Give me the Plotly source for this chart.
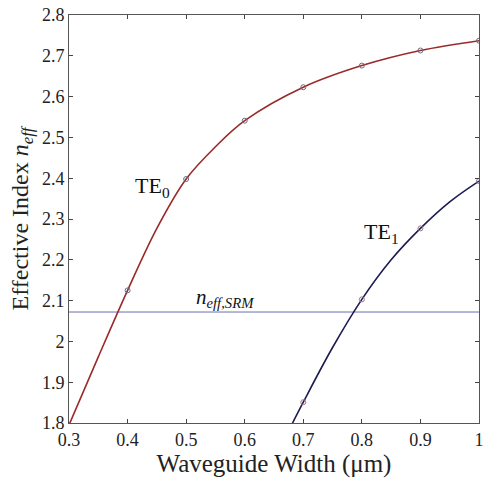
import plotly.graph_objects as go

# Data (curve read-offs and sample markers)
width_te0 = [0.3, 0.35, 0.4, 0.45, 0.5, 0.55, 0.6, 0.7, 0.8, 0.9, 1.0]
neff_te0 = [1.795, 1.962, 2.125, 2.277, 2.398, 2.477, 2.541, 2.623, 2.676, 2.713, 2.737]
te0_marker_x = [0.4, 0.5, 0.6, 0.7, 0.8, 0.9, 1.0]
te0_marker_y = [2.125, 2.398, 2.541, 2.623, 2.676, 2.713, 2.737]

width_te1 = [0.65, 0.7, 0.75, 0.8, 0.85, 0.9, 0.95, 1.0]
neff_te1 = [1.71, 1.851, 1.985, 2.103, 2.200, 2.277, 2.342, 2.393]
te1_marker_x = [0.7, 0.8, 0.9, 1.0]
te1_marker_y = [1.851, 2.103, 2.277, 2.393]

neff_srm = 2.072
x_range = [0.3, 1.0]
y_range = [1.8, 2.8]
x_ticks = [0.3, 0.4, 0.5, 0.6, 0.7, 0.8, 0.9, 1.0]
x_ticklabels = ["0.3", "0.4", "0.5", "0.6", "0.7", "0.8", "0.9", "1"]
y_ticks = [1.8, 1.9, 2.0, 2.1, 2.2, 2.3, 2.4, 2.5, 2.6, 2.7, 2.8]
y_ticklabels = ["1.8", "1.9", "2", "2.1", "2.2", "2.3", "2.4", "2.5", "2.6", "2.7", "2.8"]

serif = "'Liberation Serif', 'Times New Roman', serif"

fig = go.Figure()
fig.add_trace(go.Scatter(x=x_range, y=[neff_srm, neff_srm], mode="lines",
                         line=dict(color="#6b6fb0", width=1), hoverinfo="skip"))
fig.add_trace(go.Scatter(x=width_te0, y=neff_te0, mode="lines",
                         line=dict(color="#9a2a2a", width=1.6, shape="spline", smoothing=1.0)))
fig.add_trace(go.Scatter(x=te0_marker_x, y=te0_marker_y, mode="markers",
                         marker=dict(symbol="circle-open", size=5, color="#6a6a80", line=dict(width=1))))
fig.add_trace(go.Scatter(x=width_te1, y=neff_te1, mode="lines",
                         line=dict(color="#1c1c50", width=1.6, shape="spline", smoothing=1.0)))
fig.add_trace(go.Scatter(x=te1_marker_x, y=te1_marker_y, mode="markers",
                         marker=dict(symbol="circle-open", size=5, color="#a07090", line=dict(width=1))))

fig.update_layout(
    width=483, height=483,
    margin=dict(l=69, r=4, t=15, b=60, autoexpand=False),
    paper_bgcolor="white", plot_bgcolor="white",
    showlegend=False,
    font=dict(family=serif, color="#222222"),
    xaxis=dict(range=x_range, tickvals=x_ticks, ticktext=x_ticklabels,
               ticks="inside", ticklen=4, tickcolor="#444", showline=True,
               linecolor="#555", linewidth=1, mirror="ticks", showgrid=False,
               zeroline=False, tickfont=dict(size=18, family=serif),
               ticklabeloverflow="allow", automargin=False,
               title=dict(text="Waveguide Width (μm)", font=dict(size=25, family=serif), standoff=4)),
    yaxis=dict(range=y_range, tickvals=y_ticks, ticktext=y_ticklabels,
               ticks="inside", ticklen=4, tickcolor="#444", showline=True,
               linecolor="#555", linewidth=1, mirror="ticks", showgrid=False,
               zeroline=False, tickfont=dict(size=18, family=serif),
               ticklabeloverflow="allow", automargin=False,
               title=dict(text="Effective Index <i>n<sub>eff</sub></i>", font=dict(size=24, family=serif), standoff=6)),
    annotations=[
        dict(x=0.443, y=2.378, xref="x", yref="y", text="TE<sub>0</sub>", showarrow=False,
             font=dict(size=22, family=serif, color="#111")),
        dict(x=0.834, y=2.266, xref="x", yref="y", text="TE<sub>1</sub>", showarrow=False,
             font=dict(size=22, family=serif, color="#111")),
        dict(x=0.566, y=2.106, xref="x", yref="y", text="<i>n<sub>eff,SRM</sub></i>", showarrow=False,
             font=dict(size=21, family=serif, color="#111")),
    ],
)

fig.write_html("out.html")
